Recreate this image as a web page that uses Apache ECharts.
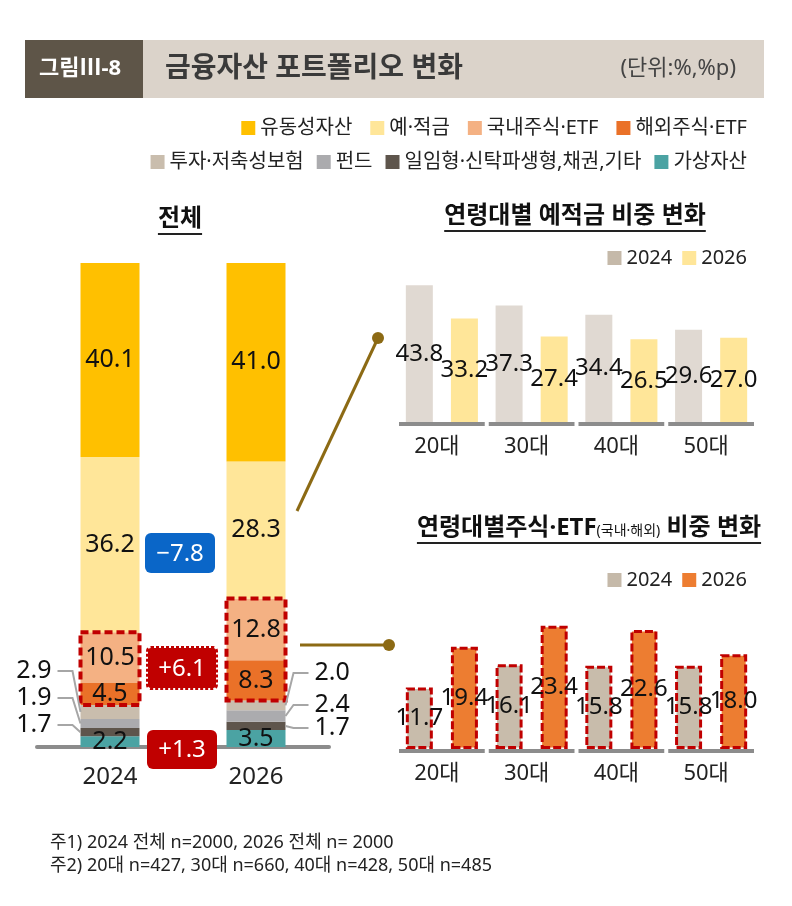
<!DOCTYPE html>
<html>
<head>
<meta charset="utf-8">
<script src="https://cdn.jsdelivr.net/npm/echarts@6/dist/echarts.min.js"></script>
<style>
html, body { margin: 0; padding: 0; background: #fff; }
#chart { width: 792px; height: 906px; }
</style>
</head>
<body>
<div id="chart"></div>
<script>
var FONT = "'Noto Sans', 'Noto Sans CJK KR', sans-serif";

// 전체 (stacked, bottom -> top)
var years = ['2024', '2026'];
var virtualAsset = [2.2, 3.5];
var trust = [1.7, 1.7];
var fund = [1.9, 2.4];
var insurance = [2.9, 2.0];
var foreignStock = [4.5, 8.3];
var domesticStock = [10.5, 12.8];
var deposit = [36.2, 28.3];
var liquid = [40.1, 41.0];

// 연령대별
var ages = ['20대', '30대', '40대', '50대'];
var deposit2024 = [43.8, 37.3, 34.4, 29.6];
var deposit2026 = [33.2, 27.4, 26.5, 27.0];
var stock2024 = [11.7, 16.1, 15.8, 15.8];
var stock2026 = [19.4, 23.4, 22.6, 18.0];

var changeLabels = ['−7.8', '+6.1', '+1.3'];

var legendRow1 = ['유동성자산', '예·적금', '국내주식·ETF', '해외주식·ETF'];
var legendRow2 = ['투자·저축성보험', '펀드', '일임형·신탁파생형,채권,기타', '가상자산'];

var stack = [
    { name: '가상자산', data: virtualAsset, color: '#4ba3a3', inside: true },
    { name: '일임형·신탁파생형,채권,기타', data: trust, color: '#5e554c', inside: false },
    { name: '펀드', data: fund, color: '#ababae', inside: false },
    { name: '투자·저축성보험', data: insurance, color: '#c9bdad', inside: false },
    { name: '해외주식·ETF', data: foreignStock, color: '#ea7128', inside: true },
    { name: '국내주식·ETF', data: domesticStock, color: '#f4b183', inside: true },
    { name: '예·적금', data: deposit, color: '#ffe699', inside: true },
    { name: '유동성자산', data: liquid, color: '#ffc000', inside: true }
];

var BAR_W = 59;
// label lift above baseline (px) for small segments: [trust, fund, insurance]
var leaderLift = [[22, 49, 76], [19, 42, 74]];

function cumBelow(idx, cat) {
    var s = 0;
    for (var i = 0; i < idx; i++) s += stack[i].data[cat];
    return s;
}

function textWidth(str, font) {
    var ctx = document.createElement('canvas').getContext('2d');
    ctx.font = font;
    return ctx.measureText(str).width;
}

var bigLabel = {
    show: true,
    position: 'inside',
    color: '#111',
    fontSize: 25,
    fontFamily: FONT,
    formatter: function (p) { return Number(p.value).toFixed(1); }
};

var series = [];
stack.forEach(function (s) {
    series.push({
        type: 'bar',
        name: s.name,
        stack: 'total',
        xAxisIndex: 0,
        yAxisIndex: 0,
        barWidth: BAR_W,
        data: s.data,
        itemStyle: { color: s.color },
        label: s.inside ? bigLabel : { show: false }
    });
});

// dashed boxes around 해외+국내 주식
var boxData = years.map(function (y, i) {
    return [i, cumBelow(4, i), cumBelow(6, i)];
});
series.push({
    type: 'custom',
    xAxisIndex: 0,
    yAxisIndex: 0,
    z: 4,
    silent: true,
    data: boxData,
    encode: { x: 0, y: [1, 2] },
    renderItem: function (params, api) {
        var cat = api.value(0);
        var lo = api.coord([cat, api.value(1)]);
        var hi = api.coord([cat, api.value(2)]);
        return {
            type: 'rect',
            shape: { x: lo[0] - BAR_W / 2, y: hi[1], width: BAR_W, height: lo[1] - hi[1] },
            style: { fill: 'none', stroke: '#c00000', lineWidth: 4, lineDash: [8, 4] }
        };
    }
});

// small segment labels with leader lines
var smallData = [];
[1, 2, 3].forEach(function (k) {
    years.forEach(function (y, i) {
        smallData.push([i, cumBelow(k, i), cumBelow(k + 1, i), stack[k].data[i], k - 1]);
    });
});
series.push({
    type: 'custom',
    xAxisIndex: 0,
    yAxisIndex: 0,
    z: 5,
    silent: true,
    data: smallData,
    encode: { x: 0, y: [1, 2] },
    renderItem: function (params, api) {
        var cat = api.value(0);
        var lo = api.coord([cat, api.value(1)]);
        var hi = api.coord([cat, api.value(2)]);
        var base = api.coord([cat, 0]);
        var midY = (lo[1] + hi[1]) / 2;
        var dir = cat === 0 ? -1 : 1;
        var edgeX = lo[0] + dir * BAR_W / 2;
        var ly = base[1] - leaderLift[cat][api.value(4)];
        var al = dir < 0 ? 'right' : 'left';
        return {
            type: 'group',
            children: [{
                type: 'polyline',
                shape: { points: [[edgeX, midY], [edgeX + dir * 8, ly], [edgeX + dir * 23, ly]] },
                style: { stroke: '#a6a6a6', lineWidth: 2, fill: 'none' }
            }, {
                type: 'text',
                style: {
                    text: Number(api.value(3)).toFixed(1),
                    x: edgeX + dir * 29, y: ly,
                    align: al, verticalAlign: 'middle',
                    textAlign: al, textVerticalAlign: 'middle',
                    font: '25px ' + FONT, fill: '#111'
                }
            }]
        };
    }
});

// right-hand charts
var ageLabel = {
    show: true,
    position: 'inside',
    color: '#111',
    fontSize: 24,
    fontFamily: FONT,
    formatter: function (p) { return Number(p.value).toFixed(1); }
};
series.push({
    type: 'bar', name: '예적금2024', xAxisIndex: 1, yAxisIndex: 1,
    data: deposit2024, barWidth: 27, barGap: '67%',
    itemStyle: { color: '#e0d9d2' }, label: ageLabel
});
series.push({
    type: 'bar', name: '예적금2026', xAxisIndex: 1, yAxisIndex: 1,
    data: deposit2026, barWidth: 27, barGap: '67%',
    itemStyle: { color: '#ffe699' }, label: ageLabel
});
series.push({
    type: 'bar', name: '주식2024', xAxisIndex: 2, yAxisIndex: 2,
    data: stock2024, barWidth: 27, barGap: '67%',
    itemStyle: { color: '#c8bcab', borderColor: '#c00000', borderWidth: 3, borderType: [8, 3] },
    label: ageLabel
});
series.push({
    type: 'bar', name: '주식2026', xAxisIndex: 2, yAxisIndex: 2,
    data: stock2026, barWidth: 27, barGap: '67%',
    itemStyle: { color: '#ed7d31', borderColor: '#c00000', borderWidth: 3, borderType: [8, 3] },
    label: ageLabel
});

function baseSeg(params, api) {
    var c = api.coord([api.value(0), 0]);
    var bw = api.size([1, 0])[0];
    return {
        type: 'line',
        shape: { x1: c[0] - bw / 2 + 2, y1: c[1] + 2, x2: c[0] + bw / 2 - 2, y2: c[1] + 2 },
        style: { stroke: '#8c8c8c', lineWidth: 4 }
    };
}
var segData = ages.map(function (a, i) { return [i, 0]; });
[1, 2].forEach(function (ax) {
    series.push({
        type: 'custom', xAxisIndex: ax, yAxisIndex: ax, silent: true,
        data: segData, encode: { x: 0, y: 1 }, renderItem: baseSeg
    });
});

var legendBase = {
    icon: 'rect',
    itemWidth: 14,
    itemHeight: 14,
    selectedMode: false,
    textStyle: { fontSize: 20, color: '#222', fontFamily: FONT },
    itemStyle: { borderWidth: 0 }
};
function mkLegend(extra) {
    return Object.assign({}, legendBase, extra);
}
var shortName = function (n) { return n.slice(-4); };

// titles + underlines
var titleFont = 'bold 24px ' + FONT;
function titleWithLine(text, cx, cy) {
    var w = textWidth(text, titleFont);
    return [{
        type: 'text', z: 10,
        style: { text: text, x: cx, y: cy, align: 'center', verticalAlign: 'middle',
            textAlign: 'center', textVerticalAlign: 'middle', font: titleFont, fill: '#111' }
    }, {
        type: 'line', z: 10,
        shape: { x1: cx - w / 2, y1: cy + 15, x2: cx + w / 2, y2: cy + 15 },
        style: { stroke: '#222', lineWidth: 2 }
    }];
}

var stTitleA = '연령대별주식·ETF';
var stTitleB = '(국내·해외)';
var stTitleC = ' 비중 변화';
var stW = textWidth(stTitleA, titleFont) +
    textWidth(stTitleB, '14px ' + FONT) +
    textWidth(stTitleC, titleFont);
var stCx = 589;

function badge(x, y, w, h, fill, text, dashed) {
    var rect = {
        type: 'rect', z: 10,
        shape: { x: x, y: y, width: w, height: h, r: dashed ? 3 : 6 },
        style: { fill: fill }
    };
    if (dashed) {
        rect.style.stroke = '#c00000';
        rect.style.lineWidth = 4;
        rect.style.lineDash = [3, 2];
    }
    return [rect, {
        type: 'text', z: 11,
        style: { text: text, x: x + w / 2, y: y + h / 2 + 1, align: 'center', verticalAlign: 'middle',
            textAlign: 'center', textVerticalAlign: 'middle', font: '24px ' + FONT, fill: '#fff' }
    }];
}

function plainText(text, x, y, font, fill, align) {
    return {
        type: 'text',
        style: { text: text, x: x, y: y, align: align, verticalAlign: 'middle',
            textAlign: align, textVerticalAlign: 'middle', font: font, fill: fill }
    };
}

var graphics = [
    { type: 'rect', shape: { x: 25, y: 40, width: 118, height: 58 }, style: { fill: '#5e5548' } },
    { type: 'rect', shape: { x: 143, y: 40, width: 621, height: 58 }, style: { fill: '#dbd3ca' } },
    plainText('그림Ⅲ-8', 80, 69, 'bold 22px ' + FONT, '#fff', 'center'),
    plainText('금융자산 포트폴리오 변화', 165, 69, 'bold 28px ' + FONT, '#3a3a3a', 'left'),
    plainText('(단위:%,%p)', 736, 69, '22px ' + FONT, '#444', 'right'),
    // connector lines
    { type: 'line', z: 9, shape: { x1: 297, y1: 511, x2: 378, y2: 338 }, style: { stroke: '#8c6a14', lineWidth: 3 } },
    { type: 'circle', z: 9, shape: { cx: 378, cy: 338, r: 6 }, style: { fill: '#8c6a14' } },
    { type: 'line', z: 9, shape: { x1: 300, y1: 645, x2: 388, y2: 645 }, style: { stroke: '#8c6a14', lineWidth: 3 } },
    { type: 'circle', z: 9, shape: { cx: 389, cy: 645, r: 6 }, style: { fill: '#8c6a14' } },
    // bottom-right title (rich text)
    { type: 'text', z: 10,
        style: { text: '{a|' + stTitleA + '}{b|' + stTitleB + '}{a|' + stTitleC + '}',
            x: stCx, y: 528, align: 'center', verticalAlign: 'middle',
            textAlign: 'center', textVerticalAlign: 'middle', fill: '#111',
            rich: { a: { font: titleFont, fill: '#111' }, b: { font: '14px ' + FONT, fill: '#111', padding: [6, 0, 0, 0] } } } },
    { type: 'line', z: 10, shape: { x1: stCx - stW / 2, y1: 543, x2: stCx + stW / 2, y2: 543 }, style: { stroke: '#222', lineWidth: 2 } },
    // footnotes
    plainText('주1) 2024 전체 n=2000, 2026 전체 n= 2000', 50, 843, '18px ' + FONT, '#222', 'left'),
    plainText('주2) 20대 n=427, 30대 n=660, 40대 n=428, 50대 n=485', 50, 866, '18px ' + FONT, '#222', 'left')
];
graphics = graphics
    .concat(titleWithLine('전체', 180, 219))
    .concat(titleWithLine('연령대별 예적금 비중 변화', 575, 216))
    .concat(badge(145, 533, 70, 40, '#0a66c8', changeLabels[0], false))
    .concat(badge(148, 648, 68, 40, '#c00000', changeLabels[1], true))
    .concat(badge(147, 730, 70, 39, '#c00000', changeLabels[2], false));

var ageAxis = function (idx) {
    return {
        type: 'category', gridIndex: idx, data: ages,
        axisLine: { show: false }, axisTick: { show: false },
        axisLabel: { fontSize: 22, color: '#222', fontFamily: FONT, margin: 14, padding: [0, 10, 0, 0] }
    };
};
var hiddenY = function (idx, max) {
    return { type: 'value', gridIndex: idx, min: 0, max: max, show: false, splitLine: { show: false } };
};

var chart = echarts.init(document.getElementById('chart'));
chart.setOption({
    animation: false,
    backgroundColor: '#fff',
    textStyle: { fontFamily: FONT },
    grid: [
        { left: 37, top: 263, width: 292, height: 484 },
        { left: 397, top: 266, width: 359, height: 156 },
        { left: 397, top: 591, width: 359, height: 158 }
    ],
    xAxis: [{
        type: 'category', gridIndex: 0, data: years,
        axisLine: { lineStyle: { color: '#8c8c8c', width: 4 } },
        axisTick: { show: false },
        axisLabel: { fontSize: 24, color: '#222', fontFamily: FONT, margin: 18 }
    }, ageAxis(1), ageAxis(2)],
    yAxis: [hiddenY(0, 100), hiddenY(1, 50), hiddenY(2, 30)],
    legend: [
        mkLegend({ data: legendRow1, top: 113, right: 40, itemGap: 18 }),
        mkLegend({ data: legendRow2, top: 147, right: 40, itemGap: 13 }),
        mkLegend({ data: [{ name: '예적금2024', itemStyle: { color: '#c5b9a9' } }, '예적금2026'],
            top: 243, right: 40, itemGap: 10, formatter: shortName }),
        mkLegend({ data: [{ name: '주식2024', itemStyle: { color: '#c5b9a9', borderWidth: 0 } },
            { name: '주식2026', itemStyle: { color: '#ed7d31', borderWidth: 0 } }],
            top: 565, right: 40, itemGap: 10, formatter: shortName })
    ],
    graphic: { elements: graphics },
    series: series
});
</script>
</body>
</html>
